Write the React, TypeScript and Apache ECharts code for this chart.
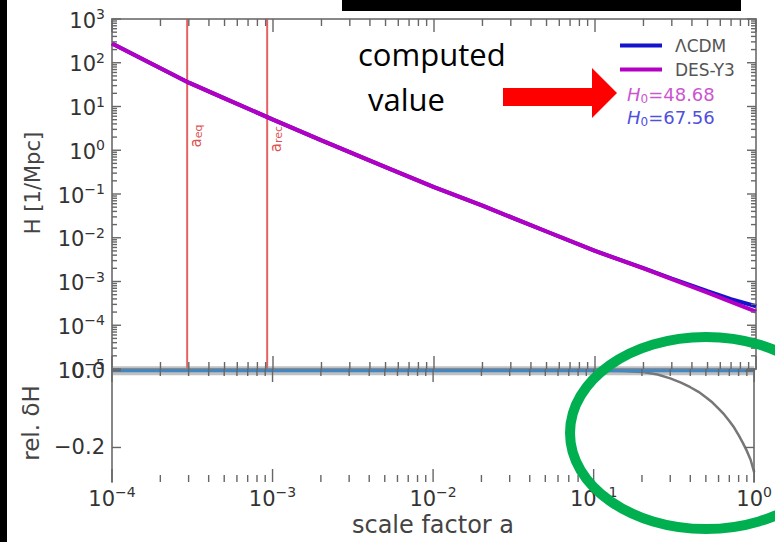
import React, { useEffect, useRef } from 'react';
import * as echarts from 'echarts';

// ---- data ----
const A_TOP = [1e-4, 2e-4, 3e-4, 5e-4, 1e-3, 2e-3, 5e-3, 1e-2, 2e-2, 5e-2, 0.1, 0.2, 0.3, 0.5, 0.7, 1.0];
const H_DES = [275, 75, 35, 15.4, 5.0, 1.68, 0.413, 0.143, 0.054, 0.0139, 0.005, 0.00199, 0.00114, 5.6e-4, 3.43e-4, 2.04e-4];
const H_LCDM = [275, 75, 35, 15.4, 5.0, 1.68, 0.413, 0.143, 0.054, 0.0139, 0.005, 0.00201, 0.00117, 6.0e-4, 3.96e-4, 2.72e-4];
const A_BOT = [1e-4, 1e-3, 1e-2, 0.1, 0.15, 0.2, 0.25, 0.3, 0.35, 0.4, 0.45, 0.5, 0.55, 0.6, 0.65, 0.7, 0.75, 0.8, 0.85, 0.9, 0.95, 1.0];
const DELTA_H = [0, 0, 0, 0, -0.0005, -0.003, -0.01, -0.02, -0.031, -0.043, -0.055, -0.069, -0.083, -0.099, -0.114, -0.131, -0.148, -0.168, -0.188, -0.209, -0.232, -0.265];
const REF_A = [1e-4, 1.0];
const REF_ZERO = [0, 0];
const EPOCH_A = [2.93e-4, 9.2e-4];
const EPOCH_SUB = ['eq', 'rec'];
const X_MAJOR = [1e-4, 1e-3, 1e-2, 1e-1, 1];
const Y_MAJOR_TOP = [1e-5, 1e-4, 1e-3, 1e-2, 1e-1, 1, 10, 100, 1000];
const Y_MAJOR_BOT = [-0.2, 0];
const LEGEND_NAMES = ['ΛCDM', 'DES-Y3'];
const H0_DES = '48.68';
const H0_LCDM = '67.56';

const FONT = 'DejaVu Sans';
const TICK_COLOR = '#666666';
const FRAME = '#888';
const LABEL_COLOR = '#333';

const supRich = {
  b: { fontSize: 21, fontFamily: FONT, color: LABEL_COLOR, lineHeight: 24, verticalAlign: 'bottom' },
  s: { fontSize: 14, fontFamily: FONT, color: LABEL_COLOR, lineHeight: 12, verticalAlign: 'top' },
};
const powFmt = (v: number) => {
  const e = Math.round(Math.log10(v));
  return `{b|10}{s|${e < 0 ? '−' + -e : e}}`;
};

const xMinor: number[] = [];
for (let e = -4; e < 0; e++) for (let m = 2; m <= 9; m++) xMinor.push(m * Math.pow(10, e));
const yMinor: number[] = [];
for (let e = -5; e < 3; e++) for (let m = 2; m <= 9; m++) yMinor.push(m * Math.pow(10, e));

const axisLine = { show: true, lineStyle: { color: FRAME, width: 2 } };
const noTick = { show: false };

function logX(grid: number, pos: string, labels: boolean) {
  return {
    type: 'log', logBase: 10, gridIndex: grid, position: pos, min: 1e-4, max: 1, interval: 1, splitNumber: 4,
    axisLine, axisTick: noTick, splitLine: { show: false },
    axisLabel: labels
      ? { show: true, formatter: powFmt, rich: supRich, margin: 3, showMinLabel: true, showMaxLabel: true }
      : { show: false },
  };
}

export default function App() {
  const ref = useRef<HTMLDivElement>(null);
  useEffect(() => {
    if (!ref.current) return;
    const chart = echarts.init(ref.current, undefined, { renderer: 'svg' });
    const redRich = {
      a: { fontSize: 15, fontFamily: FONT, fill: '#e05050', color: '#e05050', lineHeight: 16, verticalAlign: 'top' },
      s: { fontSize: 11, fontFamily: FONT, fill: '#e05050', color: '#e05050', lineHeight: 8, verticalAlign: 'bottom' },
    };
    const h0Rich = (color: string) => ({
      h: { fontSize: 18, fontFamily: FONT, fontStyle: 'italic', fill: color, lineHeight: 20, verticalAlign: 'top' },
      z: { fontSize: 12, fontFamily: FONT, fill: color, lineHeight: 10, verticalAlign: 'bottom' },
      t: { fontSize: 18, fontFamily: FONT, fill: color, lineHeight: 20, verticalAlign: 'top' },
    });
    const option: any = {
      animation: false,
      backgroundColor: '#fff',
      grid: [
        { left: 112, top: 19, width: 644, height: 350 },
        { left: 112, top: 369, width: 644, height: 113 },
      ],
      xAxis: [logX(0, 'bottom', false), logX(0, 'top', false), logX(1, 'bottom', true), logX(1, 'top', false)],
      yAxis: [
        {
          type: 'log', logBase: 10, gridIndex: 0, position: 'left', min: 1e-5, max: 1e3, interval: 1, splitNumber: 8,
          axisLine, axisTick: noTick, splitLine: { show: false },
          axisLabel: { formatter: powFmt, rich: supRich, margin: 7, showMinLabel: true, showMaxLabel: true },
        },
        {
          type: 'log', logBase: 10, gridIndex: 0, position: 'right', min: 1e-5, max: 1e3, interval: 1, splitNumber: 8,
          axisLine, axisTick: noTick, splitLine: { show: false }, axisLabel: { show: false },
        },
        {
          type: 'value', gridIndex: 1, position: 'left', min: -0.29, max: 0.0045,
          axisLine, splitLine: { show: false }, axisTick: noTick,
          axisLabel: {
            customValues: Y_MAJOR_BOT, margin: 7, fontSize: 21, fontFamily: FONT, color: LABEL_COLOR,
            formatter: (v: number) => (Math.abs(v) < 1e-9 ? '0.0' : v.toFixed(1).replace('-', '−')),
          },
        },
        {
          type: 'value', gridIndex: 1, position: 'right', min: -0.29, max: 0.0045,
          axisLine, splitLine: { show: false }, axisTick: noTick, axisLabel: { show: false },
        },
      ],
      legend: {
        data: LEGEND_NAMES, orient: 'vertical', left: 615, top: 32, icon: 'rect', itemWidth: 42, itemHeight: 4,
        itemGap: 7, textStyle: { fontSize: 17, fontFamily: FONT, color: '#555', padding: [0, 0, 0, 8] },
      },
      series: [
        {
          type: 'custom', name: 'epochs', xAxisIndex: 0, yAxisIndex: 0, z: 1, silent: true,
          encode: { x: 0, y: 1 },
          data: EPOCH_A.map((a, i) => [a, 1, i]),
          renderItem: (params: any, api: any) => {
            const cs = params.coordSys;
            const x = api.coord([api.value(0), 1])[0];
            const i = api.value(2);
            return {
              type: 'group',
              children: [
                { type: 'line', shape: { x1: x, y1: cs.y, x2: x, y2: cs.y + cs.height }, style: { stroke: 'rgba(226,70,70,0.85)', lineWidth: 2 } },
                {
                  type: 'text', x: x + 9, y: 136 + i * 3, rotation: Math.PI / 2,
                  style: { text: `{a|a}{s|${EPOCH_SUB[i]}}`, rich: redRich, fill: '#e05050', align: 'center', verticalAlign: 'middle' },
                },
              ],
            };
          },
        },
        {
          type: 'line', name: LEGEND_NAMES[0], xAxisIndex: 0, yAxisIndex: 0, z: 2, symbol: 'none',
          data: A_TOP.map((a, i) => [a, H_LCDM[i]]),
          lineStyle: { color: '#1414cc', width: 4 }, itemStyle: { color: '#1414cc' },
        },
        {
          type: 'line', name: LEGEND_NAMES[1], xAxisIndex: 0, yAxisIndex: 0, z: 3, symbol: 'none',
          data: A_TOP.map((a, i) => [a, H_DES[i]]),
          lineStyle: { color: '#b300c3', width: 4 }, itemStyle: { color: '#b300c3' },
        },
        {
          type: 'line', name: 'band', xAxisIndex: 2, yAxisIndex: 2, z: 1, symbol: 'none',
          data: REF_A.map((a, i) => [a, REF_ZERO[i]]),
          lineStyle: { color: 'rgba(140,140,140,0.55)', width: 9 },
        },
        {
          type: 'line', name: 'rel', xAxisIndex: 2, yAxisIndex: 2, z: 2, symbol: 'none',
          data: A_BOT.map((a, i) => [a, DELTA_H[i]]),
          lineStyle: { color: '#777', width: 2.5 },
        },
        {
          type: 'line', name: 'ref', xAxisIndex: 2, yAxisIndex: 2, z: 3, symbol: 'none',
          data: REF_A.map((a, i) => [a, REF_ZERO[i]]),
          lineStyle: { color: '#3f87c5', width: 3 },
        },
      ],
    };
    chart.setOption(option);

    // tick marks placed with the axes' own scales, drawn as thin filled rects
    const px = (xi: number, v: number) => Number(chart.convertToPixel({ xAxisIndex: xi }, v));
    const py = (yi: number, v: number) => Number(chart.convertToPixel({ yAxisIndex: yi }, v));
    const ticks: any[] = [];
    const W = 1.4;
    const vtick = (x: number, y0: number, L: number) =>
      ticks.push({ type: 'rect', silent: true, z: 40, shape: { x: x - W / 2, y: Math.min(y0, y0 + L), width: W, height: Math.abs(L) }, style: { fill: TICK_COLOR } });
    const htick = (y: number, x0: number, L: number) =>
      ticks.push({ type: 'rect', silent: true, z: 40, shape: { x: Math.min(x0, x0 + L), y: y - W / 2, width: Math.abs(L), height: W }, style: { fill: TICK_COLOR } });
    const panels = [
      { xi: 0, yi: 0, yLo: 1e-5, yHi: 1e3, yMaj: Y_MAJOR_TOP, yMin: yMinor },
      { xi: 2, yi: 2, yLo: -0.29, yHi: 0.0045, yMaj: Y_MAJOR_BOT, yMin: [] as number[] },
    ];
    panels.forEach((p) => {
      const left = px(p.xi, 1e-4);
      const right = px(p.xi, 1);
      const top = py(p.yi, p.yHi);
      const bottom = py(p.yi, p.yLo);
      const xt = (v: number, L: number) => {
        const x = px(p.xi, v);
        vtick(x, top, L);
        vtick(x, bottom, -L);
      };
      const yt = (v: number, L: number) => {
        const y = py(p.yi, v);
        htick(y, left, L);
        htick(y, right, -L);
      };
      X_MAJOR.forEach((v) => xt(v, 13));
      xMinor.forEach((v) => xt(v, 7));
      p.yMaj.forEach((v) => yt(v, 9));
      p.yMin.forEach((v) => yt(v, 5));
    });

    chart.setOption({
      graphic: [
        ...ticks,
        { type: 'rect', shape: { x: 0, y: 0, width: 7, height: 542 }, style: { fill: '#000' }, z: 100 },
        { type: 'rect', shape: { x: 342, y: 0, width: 399, height: 11 }, style: { fill: '#000' }, z: 100 },
        {
          type: 'text', x: 627, y: 95, z: 50,
          style: { text: `{h|H}{z|0}{t|=${H0_DES}}`, rich: h0Rich('#cc55d0'), align: 'left', verticalAlign: 'middle' },
        },
        {
          type: 'text', x: 627, y: 118, z: 50,
          style: { text: `{h|H}{z|0}{t|=${H0_LCDM}}`, rich: h0Rich('#5050dd'), align: 'left', verticalAlign: 'middle' },
        },
        {
          type: 'text', x: 33, y: 183, rotation: Math.PI / 2, z: 50,
          style: { text: 'H [1/Mpc]', font: `21px "${FONT}"`, fill: '#444', align: 'center', verticalAlign: 'middle' },
        },
        {
          type: 'text', x: 31, y: 423, rotation: Math.PI / 2, z: 50,
          style: { text: 'rel. δH', font: `23px "${FONT}"`, fill: '#444', align: 'center', verticalAlign: 'middle' },
        },
        {
          type: 'text', x: 433, y: 525, z: 50,
          style: { text: 'scale factor a', font: `24px "${FONT}"`, fill: '#444', align: 'center', verticalAlign: 'middle' },
        },
        {
          type: 'text', x: 358, y: 54, z: 60,
          style: { text: 'computed', font: '31px "Open Sans"', fill: '#000', align: 'left', verticalAlign: 'middle' },
        },
        {
          type: 'text', x: 368, y: 99, z: 60,
          style: { text: 'value', font: '31px "Open Sans"', fill: '#000', align: 'left', verticalAlign: 'middle' },
        },
        {
          type: 'polygon', z: 60,
          shape: { points: [[503, 88], [592, 88], [592, 68], [617, 93], [592, 118], [592, 106], [503, 106]] },
          style: { fill: '#ff0000' },
        },
        {
          type: 'ellipse', z: 70,
          shape: { cx: 706, cy: 433, rx: 136, ry: 96 },
          style: { fill: 'none', stroke: '#00b050', lineWidth: 10 },
        },
      ],
    });
    return () => chart.dispose();
  }, []);
  return <div ref={ref} style={{ width: 775, height: 542, position: 'absolute', left: 0, top: 0 }} />;
}
